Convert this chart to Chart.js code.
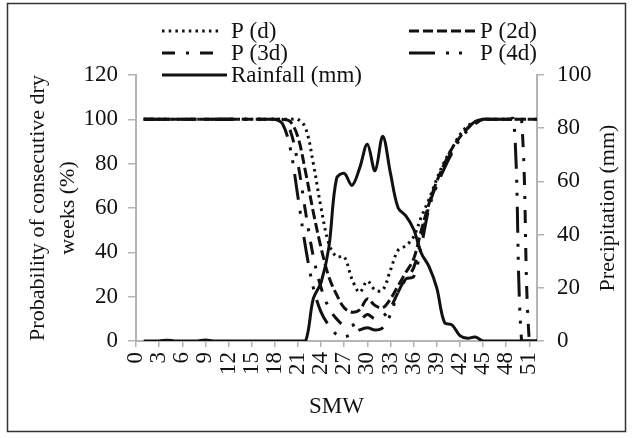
<!DOCTYPE html>
<html>
<head>
<meta charset="utf-8">
<script src="https://cdn.jsdelivr.net/npm/chart.js@4/dist/chart.umd.min.js"></script>
<style>
html,body{margin:0;padding:0;background:#fff;}
#wrap{position:relative;width:634px;height:438px;}
canvas{display:block;}
</style>
</head>
<body>
<div id="wrap"><canvas id="c" width="634" height="438"></canvas></div>
<script>
// ---- data (standard meteorological weeks 1..52) ----
const weeks = [1,2,3,4,5,6,7,8,9,10,11,12,13,14,15,16,17,18,19,20,21,22,23,24,25,26,
               27,28,29,30,31,32,33,34,35,36,37,38,39,40,41,42,43,44,45,46,47,48,49,50,51,52];
const xTickLabels = [0,3,6,9,12,15,18,21,24,27,30,33,36,39,42,45,48,51];
const seriesNames = ['P (d)', 'P (2d)', 'P (3d)', 'P (4d)', 'Rainfall (mm)'];

const pD  = [100,100,100,100,100,100,100,100,100,100,100,100,100,100,100,100,100,100,100,100,100,
             96,80,60,44,38,38,28,22,27,23,23,32,41,43,47,56,64,73,81,87,93,97,99,
             100,100,100,100,100,100,100,100];
const p2D = [100,100,100,100,100,100,100,100,100,100,100,100,100,100,100,100,100,100,100,
             99,92,76,58,42,29,21,15,13,14,19,16,15,19,25,31,37,50,62,72,80,87,92,96,99,
             100,100,100,100,100,100,100,100];
const p3D = [100,100,100,100,100,100,100,100,100,100,100,100,100,100,100,100,100,100,100,
             95,80,58,38,24,15,10,7,7,9,12,10,11,15,22,28,33,46,61,71,79,86,92,96,99,
             100,100,100,100,100,100,0,0];
const p4D = [100,100,100,100,100,100,100,100,100,100,100,100,100,100,100,100,100,100,98,
             87,65,42,24,13,7,3,2,3,5,6,5,6,12,22,28,29,43,60,70,78,85,91,95,98,
             100,100,100,100,100,0,0,0];
const rainfall = [0,0,0,0.3,0,0,0,0,0.4,0,0,0,0,0,0,0,0,0,0,0,0,0,
                  16,22,35,61,63,58.5,65,74,64,77,63,50,47,42,33,28,20,7,6,2,1,1.5,
                  0,0,0,0,0,0,0,0];

// ---- styles ----
const FONT = "'Liberation Serif', 'Times New Roman', serif";
const AXIS_GRAY = '#b4b4b4';
const INK = '#111111';
const dashes = [[2.5,4.2],[10,4],[13,11,3,11],[26,11,3,10,3,11],[]];
const seriesData = [pD, p2D, p3D, p4D, rainfall];

const datasets = seriesData.map((arr, i) => ({
  label: seriesNames[i],
  data: weeks.map((w, k) => ({x: w, y: arr[k]})),
  yAxisID: i === 4 ? 'y2' : 'y',
  borderColor: INK,
  borderWidth: 3,
  borderDash: dashes[i],
  borderCapStyle: 'butt',
  pointRadius: 0,
  tension: 0.35,
  fill: false,
  order: i === 4 ? 0 : 1
}));

const legendPlugin = {
  id: 'customLegend',
  afterDraw(chart) {
    const ctx = chart.ctx;
    // [sample start x, row y, sample length, text x]
    const pos = [[162,31,59,231],[409,31,69,480],[162,53,59,231],[409,53,56,480],[162,75,65,231]];
    ctx.save();
    ctx.font = '23px ' + FONT;
    ctx.fillStyle = INK;
    ctx.textBaseline = 'middle';
    ctx.textAlign = 'left';
    chart.data.datasets.forEach((ds, i) => {
      const [x, y, len, tx] = pos[i];
      ctx.strokeStyle = ds.borderColor;
      ctx.lineWidth = ds.borderWidth;
      ctx.lineCap = 'butt';
      ctx.setLineDash(ds.borderDash);
      ctx.beginPath();
      ctx.moveTo(x, y);
      ctx.lineTo(x + len, y);
      ctx.stroke();
      ctx.setLineDash([]);
      ctx.fillText(ds.label, tx, y + 1);
    });
    // right axis title, reading bottom-to-top
    const y2 = chart.scales.y2;
    ctx.font = '22px ' + FONT;
    ctx.save();
    ctx.translate(608, (y2.top + y2.bottom) / 2);
    ctx.rotate(-Math.PI / 2);
    ctx.textAlign = 'center';
    ctx.fillText('Precipitation (mm)', 0, 0);
    ctx.restore();
    ctx.restore();
  },
  beforeDraw(chart) {
    const ctx = chart.ctx;
    ctx.save();
    ctx.fillStyle = '#fff';
    ctx.fillRect(0, 0, chart.width, chart.height);
    ctx.strokeStyle = '#333';
    ctx.lineWidth = 1.5;
    ctx.strokeRect(7.5, 3.5, 618, 428);
    ctx.restore();
  }
};

new Chart(document.getElementById('c'), {
  type: 'line',
  data: { datasets },
  plugins: [legendPlugin],
  options: {
    responsive: false,
    animation: false,
    devicePixelRatio: 1,
    layout: { padding: { top: 75, left: 0, right: 0, bottom: 0 } },
    plugins: { legend: { display: false }, tooltip: { enabled: false } },
    scales: {
      x: {
        type: 'linear',
        min: 0, max: 52,
        afterBuildTicks: s => { s.ticks = xTickLabels.map(v => ({ value: v })); },
        afterFit: s => { s.height = 97; },
        ticks: {
          autoSkip: false, minRotation: 90, maxRotation: 90,
          padding: 5, color: INK,
          font: { family: FONT, size: 23 }
        },
        grid: { drawOnChartArea: false, drawTicks: true, tickLength: 6, color: AXIS_GRAY, lineWidth: 1.5 },
        border: { display: true, color: AXIS_GRAY, width: 2 },
        title: { display: true, text: 'SMW', color: INK, font: { family: FONT, size: 23 }, padding: { top: 0, bottom: 17 } }
      },
      y: {
        position: 'left',
        min: 0, max: 120,
        ticks: { stepSize: 20, padding: 10, color: INK, font: { family: FONT, size: 23 } },
        afterFit: s => { s.width = 136; },
        grid: { drawOnChartArea: false, drawTicks: true, tickLength: 8, color: AXIS_GRAY, lineWidth: 1.5 },
        border: { display: true, color: AXIS_GRAY, width: 2 },
        title: {
          display: true,
          text: ['Probability of consecutive dry', 'weeks (%)'],
          color: INK,
          font: { family: FONT, size: 22, lineHeight: 1.36 },
          padding: { top: 23, bottom: 0 }
        }
      },
      y2: {
        position: 'right',
        min: 0, max: 100,
        ticks: { stepSize: 20, padding: 13, color: INK, font: { family: FONT, size: 23 } },
        afterFit: s => { s.width = 97; },
        grid: { drawOnChartArea: false, drawTicks: true, tickLength: 7, color: AXIS_GRAY, lineWidth: 1.5 },
        border: { display: true, color: AXIS_GRAY, width: 2 }
      }
    }
  }
});
</script>
</body>
</html>
